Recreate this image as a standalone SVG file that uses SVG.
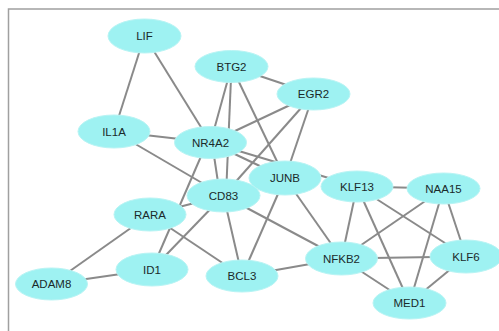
<svg xmlns="http://www.w3.org/2000/svg" width="499" height="331" viewBox="0 0 499 331">
  <style>
    .edge { stroke: #8a8a8a; stroke-width: 2; fill: none; }
    .node ellipse { fill: #9ef2f2; stroke: #b8f4f4; stroke-width: 1; }
    .node text { font-family: "Liberation Sans", Arial, sans-serif; font-size: 11.5px; fill: #1a2a2a; text-anchor: middle; dominant-baseline: central; }
    .frame { fill: none; stroke: #a0a0a0; stroke-width: 1.5; }
  </style>
  <rect width="499" height="331" fill="#ffffff"/>
  <path class="frame" d="M8.5,331 V9 H499"/>

  <g id="edges">
    <line class="edge" x1="144.5" y1="36" x2="114" y2="131.5"/>
    <line class="edge" x1="144.5" y1="36" x2="210.5" y2="142.5"/>
    <line class="edge" x1="114" y1="131.5" x2="210.5" y2="142.5"/>
    <line class="edge" x1="114" y1="131.5" x2="223.5" y2="195.5"/>
    <line class="edge" x1="231.5" y1="66.5" x2="313.5" y2="94"/>
    <line class="edge" x1="231.5" y1="66.5" x2="210.5" y2="142.5"/>
    <line class="edge" x1="231.5" y1="66.5" x2="226" y2="195.5"/>
    <line class="edge" x1="231.5" y1="66.5" x2="285" y2="178"/>
    <line class="edge" x1="313.5" y1="94" x2="210.5" y2="142.5"/>
    <line class="edge" x1="313.5" y1="94" x2="223.5" y2="195.5"/>
    <line class="edge" x1="313.5" y1="94" x2="285" y2="178"/>
    <line class="edge" x1="210.5" y1="142.5" x2="285" y2="178"/>
    <line class="edge" x1="210.5" y1="142.5" x2="357" y2="186.5"/>
    <line class="edge" x1="212" y1="142.5" x2="220" y2="195.5"/>
    <line class="edge" x1="207" y1="142.5" x2="152" y2="269.5"/>
    <line class="edge" x1="150" y1="214.5" x2="223.5" y2="195.5"/>
    <line class="edge" x1="223.5" y1="195.5" x2="152" y2="269.5"/>
    <line class="edge" x1="150" y1="214.5" x2="242" y2="276"/>
    <line class="edge" x1="150" y1="214.5" x2="51.5" y2="284"/>
    <line class="edge" x1="51.5" y1="284" x2="152" y2="269.5"/>
    <line class="edge" x1="223.5" y1="195.5" x2="242" y2="276"/>
    <line class="edge" x1="223.5" y1="195.5" x2="341.5" y2="258.5"/>
    <line class="edge" x1="285" y1="178" x2="242" y2="276"/>
    <line class="edge" x1="285" y1="178" x2="341.5" y2="258.5"/>
    <line class="edge" x1="242" y1="276" x2="341.5" y2="258.5"/>
    <line class="edge" x1="357" y1="186.5" x2="443.5" y2="188.5"/>
    <line class="edge" x1="357" y1="186.5" x2="341.5" y2="258.5"/>
    <line class="edge" x1="357" y1="186.5" x2="409.5" y2="303"/>
    <line class="edge" x1="357" y1="186.5" x2="466" y2="256.5"/>
    <line class="edge" x1="443.5" y1="188.5" x2="341.5" y2="258.5"/>
    <line class="edge" x1="443.5" y1="188.5" x2="409.5" y2="303"/>
    <line class="edge" x1="443.5" y1="188.5" x2="466" y2="256.5"/>
    <line class="edge" x1="341.5" y1="258.5" x2="466" y2="256.5"/>
    <line class="edge" x1="341.5" y1="258.5" x2="409.5" y2="303"/>
    <line class="edge" x1="466" y1="256.5" x2="409.5" y2="303"/>
  </g>

  <g id="LIF" class="node"><ellipse cx="144.5" cy="36" rx="36.5" ry="17"/><text x="144.5" y="36">LIF</text></g>
  <g id="BTG2" class="node"><ellipse cx="231.5" cy="66.5" rx="36.5" ry="16"/><text x="231.5" y="66.5">BTG2</text></g>
  <g id="EGR2" class="node"><ellipse cx="313.5" cy="94" rx="36.5" ry="16"/><text x="313.5" y="94">EGR2</text></g>
  <g id="IL1A" class="node"><ellipse cx="114" cy="131.5" rx="36" ry="16.5"/><text x="114" y="131.5">IL1A</text></g>
  <g id="NR4A2" class="node"><ellipse cx="210.5" cy="142.5" rx="36" ry="16"/><text x="210.5" y="142.5">NR4A2</text></g>
  <g id="JUNB" class="node"><ellipse cx="285" cy="178" rx="36" ry="17"/><text x="285" y="178">JUNB</text></g>
  <g id="CD83" class="node"><ellipse cx="223.5" cy="195.5" rx="36.5" ry="16.5"/><text x="223.5" y="195.5">CD83</text></g>
  <g id="KLF13" class="node"><ellipse cx="357" cy="186.5" rx="36" ry="15.5"/><text x="357" y="186.5">KLF13</text></g>
  <g id="NAA15" class="node"><ellipse cx="443.5" cy="188.5" rx="36.5" ry="15.5"/><text x="443.5" y="188.5">NAA15</text></g>
  <g id="RARA" class="node"><ellipse cx="150" cy="214.5" rx="36" ry="16.5"/><text x="150" y="214.5">RARA</text></g>
  <g id="ID1" class="node"><ellipse cx="152" cy="269.5" rx="36" ry="16.5"/><text x="152" y="269.5">ID1</text></g>
  <g id="ADAM8" class="node"><ellipse cx="51.5" cy="284" rx="36" ry="16"/><text x="51.5" y="284">ADAM8</text></g>
  <g id="BCL3" class="node"><ellipse cx="242" cy="276" rx="36" ry="16"/><text x="242" y="276">BCL3</text></g>
  <g id="NFKB2" class="node"><ellipse cx="341.5" cy="258.5" rx="36" ry="16.5"/><text x="341.5" y="258.5">NFKB2</text></g>
  <g id="KLF6" class="node"><ellipse cx="466" cy="256.5" rx="36" ry="16.5"/><text x="466" y="256.5">KLF6</text></g>
  <g id="MED1" class="node"><ellipse cx="409.5" cy="303" rx="36.5" ry="16"/><text x="409.5" y="303">MED1</text></g>
</svg>
